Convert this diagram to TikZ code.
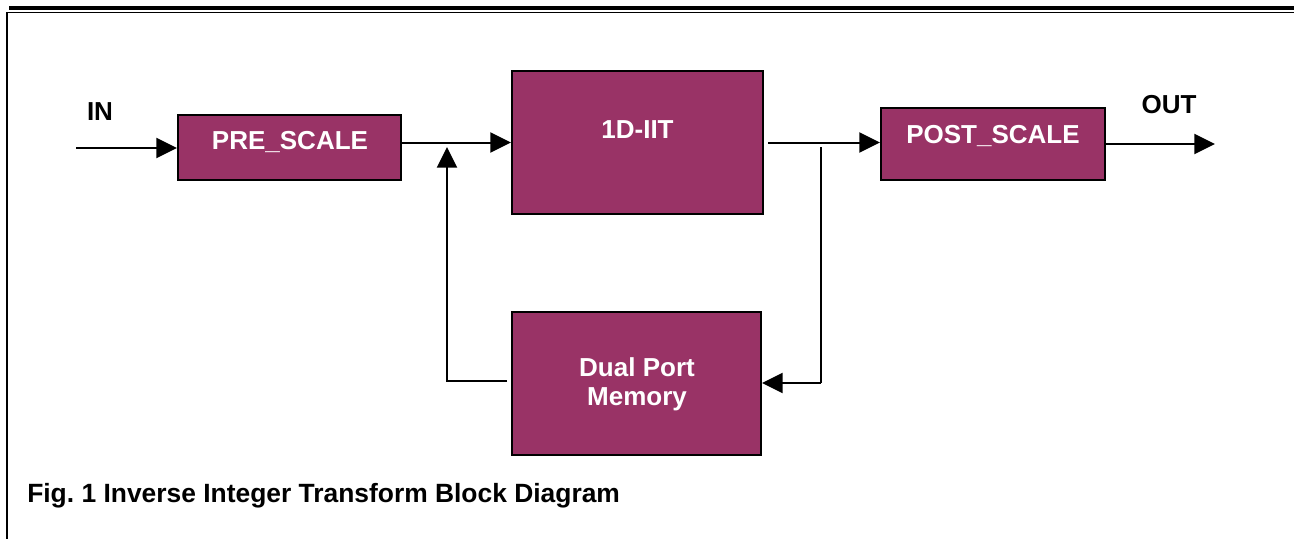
\documentclass[tikz,border=0pt]{standalone}
\usepackage{xcolor}
\usepackage{fontspec}
\setmainfont{Liberation Sans}
\usepackage{tikz}
\usetikzlibrary{positioning, arrows.meta, calc}

\definecolor{blockpurple}{RGB}{153,51,102}

\tikzset{
	block/.style={draw=black, line width=1.5pt, fill=blockpurple, inner sep=0pt},
	blocktext/.style={text=white, font=\bfseries\fontsize{19.5}{23}\selectfont, anchor=base, inner sep=0pt},
	sigtext/.style={text=black, font=\bfseries\fontsize{19.5}{23}\selectfont, anchor=base, inner sep=0pt},
	sig/.style={line width=1.5pt, -{Triangle[length=15.5pt, width=15pt]}},
	wire/.style={line width=1.5pt}
}

\begin{document}
\begin{tikzpicture}[x=0.75pt, y=-0.75pt]
	\useasboundingbox (0,0) rectangle (1294,539);
	
	% Frame
	\draw[line width=2.6pt] (9,8) -- (1294,8);
	\draw[line width=1.1pt] (6,12.5) -- (1294,12.5);
	\draw[line width=1.6pt] (7,12) -- (7,539);
	
	% Blocks
	\node[block, minimum width=167.25pt, minimum height=48.75pt] (pre) at (289.5,147.5) {};
	\node[block, minimum width=188.25pt, minimum height=107.25pt] (iit) at (637.5,142.5) {};
	\node[block, minimum width=168pt, minimum height=54pt] (post) at (993,144) {};
	\node[block, minimum width=186.75pt, minimum height=107.25pt] (mem) at (636.5,383.5) {};
	
	% Block labels
	\node[blocktext] (prelabel) at (290,149) {PRE\_SCALE};
	\node[blocktext] (iitlabel) at (637.5,138) {1D-IIT};
	\node[blocktext] (postlabel) at (993,143) {POST\_SCALE};
	\node[blocktext] (memlabel1) at (637,376) {Dual Port};
	\node[blocktext] (memlabel2) at (637,405) {Memory};
	
	% Signal labels
	\node[sigtext] (inlabel) at (100,120) {IN};
	\node[sigtext] (outlabel) at (1169,113) {OUT};
	
	% Points on the wires
	\coordinate (insrc) at (76,148);
	\coordinate (outdst) at (1215,144);
	\coordinate (tap) at (821,147);
	\coordinate (tapdown) at (821,383);
	\coordinate (fbkdown) at (447,381);
	\coordinate (fbkup) at (447,147);
	
	% Forward path
	\draw[sig] (insrc) -- (insrc -| pre.west);
	\draw[sig] (pre.east |- iit.west) -- (iit.west);
	\draw[sig] ([xshift=3pt]iit.east) -- (iit.east -| post.west);
	\draw[sig] (post.east) -- (outdst);
	
	% Loop through memory
	\draw[wire] (tap) -- (tapdown);
	\draw[sig] (tapdown) -- (tapdown -| mem.east);
	\draw[sig] ([xshift=-3pt]mem.west |- fbkdown) -- (fbkdown) -- (fbkup);
	
	% Caption
	\node[sigtext, anchor=base west, font=\bfseries\fontsize{19.8}{23}\selectfont] (caption) at (27,502) {Fig.\ 1 Inverse Integer Transform Block Diagram};
\end{tikzpicture}
\end{document}
